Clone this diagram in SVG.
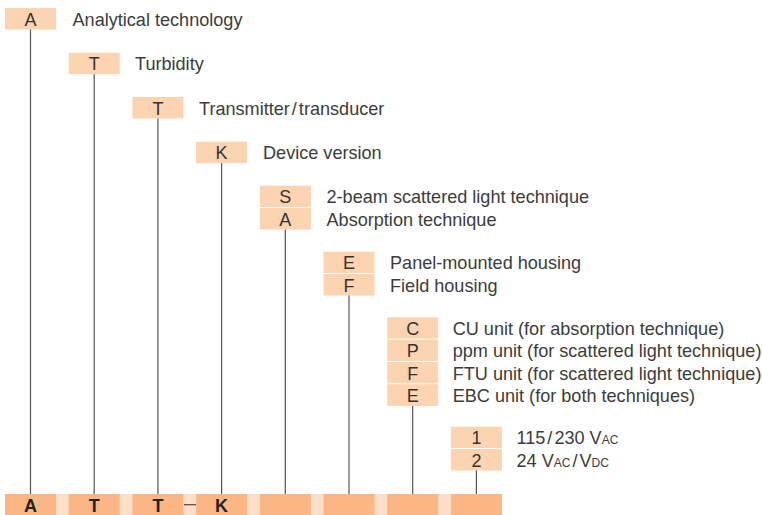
<svg xmlns="http://www.w3.org/2000/svg" width="762" height="515" viewBox="0 0 762 515">
<style>
.box{fill:#FDD4B1}
.bar{fill:#FBB684}
.gap{fill:#FDDFC9}
.code{font-family:"Liberation Sans",Arial,sans-serif;font-size:18px;fill:#333;text-anchor:middle}
.lbl{font-family:"Liberation Sans",Arial,sans-serif;font-size:18.1px;fill:#3c3c3c}
.sub{font-size:12px}
.big{font-family:"Liberation Sans",Arial,sans-serif;font-size:18px;font-weight:bold;fill:#222;text-anchor:middle}
.con{stroke:#555;stroke-width:1.2;fill:none}
</style>
<rect width="762" height="515" fill="#fff"/>

<g id="node-A">
<rect class="box" x="5" y="8" width="51" height="21.5"/>
<text class="code" x="30.5" y="25.6">A</text>
<text class="lbl" x="72.5" y="25.6">Analytical technology</text>
</g>
<g id="node-T1">
<rect class="box" x="68.7" y="52.7" width="51" height="21.5"/>
<text class="code" x="94.2" y="70.3">T</text>
<text class="lbl" x="135" y="70.3">Turbidity</text>
</g>
<g id="node-T2">
<rect class="box" x="132.4" y="97" width="51" height="21.5"/>
<text class="code" x="157.9" y="114.6">T</text>
<text class="lbl" x="199" y="114.6">Transmitter<tspan dx="2">/</tspan><tspan dx="2">transducer</tspan></text>
</g>
<g id="node-K">
<rect class="box" x="196.1" y="141.7" width="51" height="21.5"/>
<text class="code" x="221.6" y="159.3">K</text>
<text class="lbl" x="263" y="159.3">Device version</text>
</g>
<g id="node-technique">
<rect class="box" x="259.8" y="185.7" width="51" height="21.3"/>
<rect class="box" x="259.8" y="208" width="51" height="21.5"/>
<text class="code" x="285.3" y="203.3">S</text>
<text class="code" x="285.3" y="225.6">A</text>
<text class="lbl" x="326.5" y="203.3">2-beam scattered light technique</text>
<text class="lbl" x="326.5" y="225.6">Absorption technique</text>
</g>
<g id="node-housing">
<rect class="box" x="323.5" y="251.7" width="51" height="21.3"/>
<rect class="box" x="323.5" y="274" width="51" height="21.5"/>
<text class="code" x="349" y="269.3">E</text>
<text class="code" x="349" y="291.6">F</text>
<text class="lbl" x="390" y="269.3">Panel-mounted housing</text>
<text class="lbl" x="390" y="291.6">Field housing</text>
</g>
<g id="node-unit">
<rect class="box" x="387.2" y="317.3" width="51" height="21.3"/>
<rect class="box" x="387.2" y="339.6" width="51" height="21.3"/>
<rect class="box" x="387.2" y="361.9" width="51" height="21.3"/>
<rect class="box" x="387.2" y="384.2" width="51" height="21.8"/>
<text class="code" x="412.7" y="334.9">C</text>
<text class="code" x="412.7" y="357.2">P</text>
<text class="code" x="412.7" y="379.5">F</text>
<text class="code" x="412.7" y="401.8">E</text>
<text class="lbl" x="452.7" y="334.9">CU unit (for absorption technique)</text>
<text class="lbl" x="452.7" y="357.2">ppm unit (for scattered light technique)</text>
<text class="lbl" x="452.7" y="379.5">FTU unit (for scattered light technique)</text>
<text class="lbl" x="452.7" y="401.8">EBC unit (for both techniques)</text>
</g>
<g id="node-voltage">
<rect class="box" x="450.9" y="426.7" width="51" height="21.3"/>
<rect class="box" x="450.9" y="449" width="51" height="21.5"/>
<text class="code" x="476.4" y="444.3">1</text>
<text class="code" x="476.4" y="466.6">2</text>
<text class="lbl" x="516.5" y="444.3">115<tspan dx="2">/</tspan><tspan dx="2">230 V</tspan><tspan class="sub">AC</tspan></text>
<text class="lbl" x="516.5" y="466.6">24 V<tspan class="sub">AC</tspan><tspan dx="2">/</tspan><tspan dx="2">V</tspan><tspan class="sub">DC</tspan></text>
</g>

<g id="code-bar">
<rect class="gap" x="5" y="494" width="497" height="21"/>
<rect class="bar" x="5" y="494" width="51" height="21"/>
<rect class="bar" x="68.7" y="494" width="51" height="21"/>
<rect class="bar" x="132.4" y="494" width="51" height="21"/>
<rect class="bar" x="196.1" y="494" width="51" height="21"/>
<rect class="bar" x="259.8" y="494" width="51" height="21"/>
<rect class="bar" x="323.5" y="494" width="51" height="21"/>
<rect class="bar" x="387.2" y="494" width="51" height="21"/>
<rect class="bar" x="450.9" y="494" width="51" height="21"/>
<text class="big" x="30.5" y="511.5">A</text>
<text class="big" x="94.2" y="511.5">T</text>
<text class="big" x="157.9" y="511.5">T</text>
<text class="big" x="221.6" y="511.5">K</text>
<line x1="184" y1="504.7" x2="196" y2="504.7" stroke="#555" stroke-width="1.3"/>
</g>

<g id="connectors">
<line class="con" x1="30.5" y1="29.5" x2="30.5" y2="494"/>
<line class="con" x1="94.2" y1="74.2" x2="94.2" y2="494"/>
<line class="con" x1="157.9" y1="118.5" x2="157.9" y2="494"/>
<line class="con" x1="221.6" y1="163.2" x2="221.6" y2="494"/>
<line class="con" x1="285.3" y1="229.5" x2="285.3" y2="494"/>
<line class="con" x1="349" y1="295.5" x2="349" y2="494"/>
<line class="con" x1="412.7" y1="406" x2="412.7" y2="494"/>
<line class="con" x1="476.4" y1="470.5" x2="476.4" y2="494"/>
</g>
</svg>
